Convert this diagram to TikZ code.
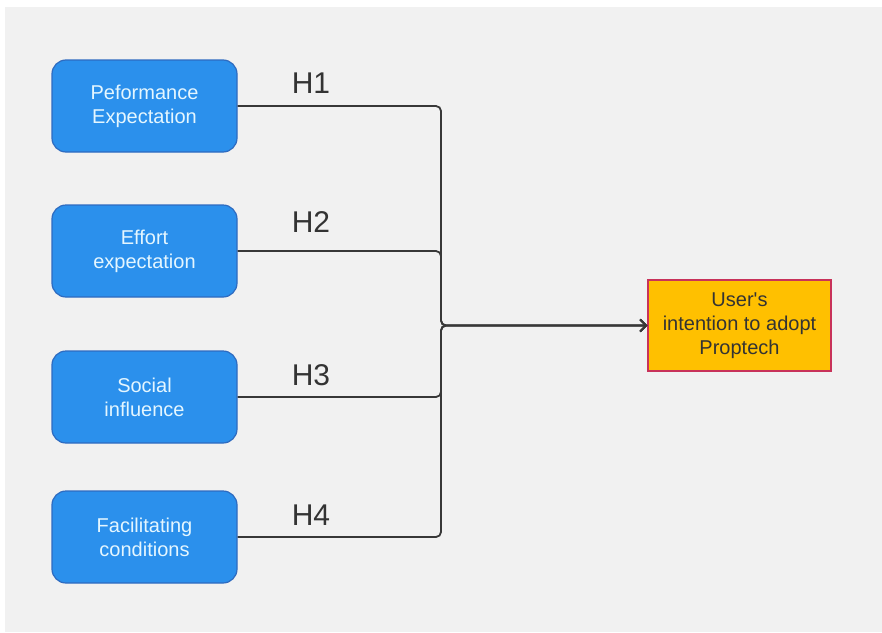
\documentclass[tikz,border=0pt]{standalone}
\usepackage{fontspec}
\setmainfont{Liberation Sans}
\usetikzlibrary{arrows.meta}
\definecolor{bg}{HTML}{F1F1F1}
\definecolor{boxfill}{HTML}{2B90EC}
\definecolor{boxedge}{HTML}{2E6BC0}
\definecolor{boxtext}{HTML}{E4F6FF}
\definecolor{tfill}{HTML}{FFC000}
\definecolor{tedge}{HTML}{C8325A}
\definecolor{linec}{HTML}{383838}
\begin{document}
\begin{tikzpicture}[x=1pt,y=-1pt,
  srcbox/.style={draw=boxedge,line width=1.2pt,fill=boxfill,rounded corners=14pt,
    minimum width=185pt,minimum height=92pt,text=boxtext,align=center,
    font=\fontsize{20}{24}\selectfont,inner sep=0pt},
  tgtbox/.style={draw=tedge,line width=1.2pt,fill=tfill,minimum width=183pt,
    minimum height=91pt,text=black!80,align=center,font=\fontsize{20}{24}\selectfont,inner sep=0pt},
  hlab/.style={font=\fontsize{30}{34}\selectfont,text=black!80},
  conn/.style={draw=linec,line width=1.8pt,rounded corners=5pt}]
\useasboundingbox (0,0) rectangle (882,632);
\fill[white] (0,0) rectangle (882,632);
\fill[bg] (5,7) rectangle (882,632);
\node[srcbox] (pe) at (144.5,106) {Peformance\\Expectation};
\node[srcbox] (ee) at (144.5,251) {Effort\\expectation};
\node[srcbox] (si) at (144.5,397) {Social\\influence};
\node[srcbox] (fc) at (144.5,537) {Facilitating\\conditions};
\node[tgtbox] (ui) at (739.5,325.5) {User\textquotesingle s\\intention to adopt\\Proptech};
\node[hlab] (h1) at (311,83) {H1};
\node[hlab] (h2) at (311,222) {H2};
\node[hlab] (h3) at (311,375) {H3};
\node[hlab] (h4) at (311,515) {H4};
\coordinate (j) at (441,325.5);
\foreach \s in {pe,ee,si,fc}
  \draw[conn,-{Straight Barb[length=6pt,width=12pt]}] (\s.east) -| (j) -- (ui.west);
\end{tikzpicture}
\end{document}
